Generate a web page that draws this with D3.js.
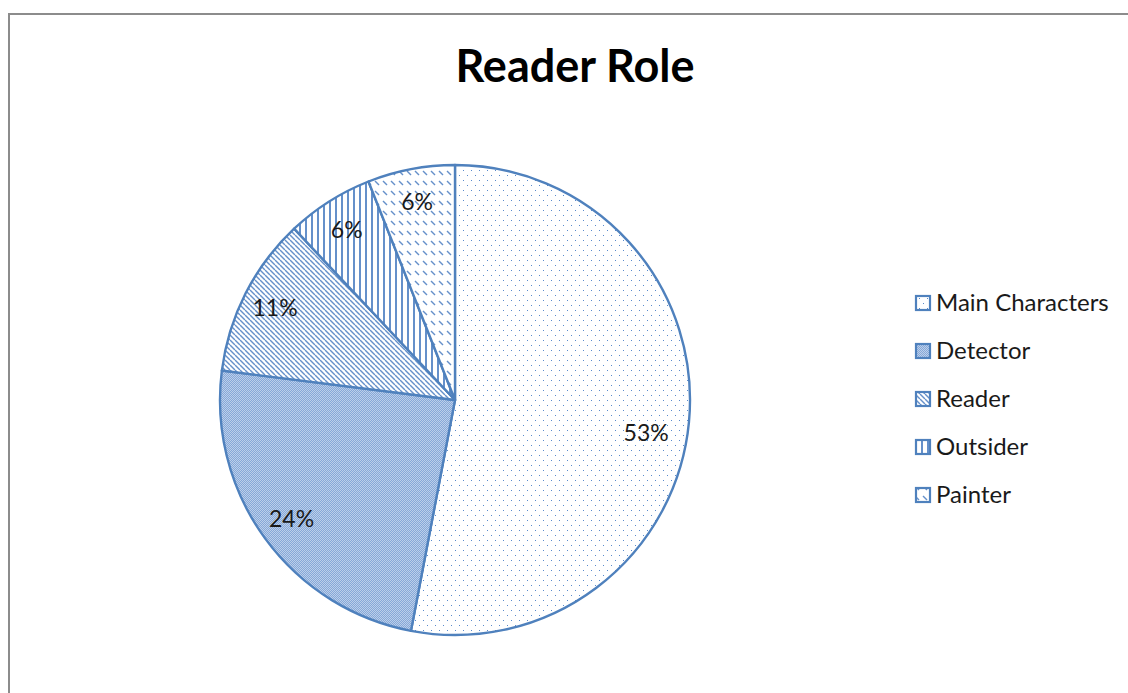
<!DOCTYPE html>
<html>
<head>
<meta charset="utf-8">
<script src="https://cdn.jsdelivr.net/npm/d3@7"></script>
<style>
  html, body { margin: 0; padding: 0; background: #fff; }
  svg { display: block; }
</style>
</head>
<body>
<svg id="chart" width="1128" height="693"></svg>
<script>
// Reader role shares
const categories = ["Main Characters", "Detector", "Reader", "Outsider", "Painter"];
const values = [53, 24, 11, 6, 6];
const patternIds = ["pDots", "pChecker", "pDiag", "pVert", "pDashDiag"];

const W = 1128, H = 693;
const blue = "#4F81BD";
const ink = "#6590ca";
const font = "Lato, 'Open Sans', sans-serif";

const svg = d3.select("#chart");
const defs = svg.append("defs");

// Fill patterns for each slice
function pattern(id, w, h, bg) {
  const p = defs.append("pattern")
    .attr("id", id).attr("patternUnits", "userSpaceOnUse")
    .attr("width", w).attr("height", h)
    .attr("shape-rendering", "crispEdges");
  p.append("rect").attr("width", w).attr("height", h).attr("fill", bg || "#fff");
  return p;
}
// sparse dots
{
  const p = pattern("pDots", 8, 10);
  p.append("rect").attr("x", 0).attr("y", 0).attr("width", 1.3).attr("height", 1.3).attr("fill", "#5a8acb");
  p.append("rect").attr("x", 4).attr("y", 5).attr("width", 1.3).attr("height", 1.3).attr("fill", "#5a8acb");
}
// fine checkerboard
{
  const p = pattern("pChecker", 4, 4, "#bccfea");
  [[0, 0], [2, 0], [1, 1], [3, 1], [0, 2], [2, 2], [1, 3], [3, 3]].forEach(([x, y]) => {
    p.append("rect").attr("x", x).attr("y", y).attr("width", 1).attr("height", 1).attr("fill", "#86a8d8");
  });
}
// downward diagonal lines
{
  const s = 5;
  const p = pattern("pDiag", s, s);
  p.attr("shape-rendering", "auto");
  [-s, 0, s].forEach(dx => {
    p.append("line").attr("x1", dx).attr("y1", 0).attr("x2", dx + s).attr("y2", s)
      .attr("stroke", ink).attr("stroke-width", 1.4);
  });
}
// vertical lines
{
  const p = pattern("pVert", 6, 6);
  p.append("rect").attr("x", 0).attr("y", 0).attr("width", 2).attr("height", 6).attr("fill", ink);
}
// dashed downward diagonals
{
  const p = pattern("pDashDiag", 8, 10);
  p.attr("shape-rendering", "auto");
  p.append("line").attr("x1", 0).attr("y1", 1).attr("x2", 4).attr("y2", 5)
    .attr("stroke", ink).attr("stroke-width", 1.5);
  p.append("line").attr("x1", 8).attr("y1", 1).attr("x2", 12).attr("y2", 5)
    .attr("stroke", ink).attr("stroke-width", 1.5);
}

// Chart frame
svg.append("rect")
  .attr("x", 9).attr("y", 14).attr("width", W + 20).attr("height", H + 20)
  .attr("fill", "#fff").attr("stroke", "#8c8c8c").attr("stroke-width", 2);

// Title
svg.append("text")
  .attr("x", 575).attr("y", 82)
  .attr("text-anchor", "middle")
  .attr("font-family", font).attr("font-weight", "bold").attr("font-size", 45)
  .attr("fill", "#000")
  .text("Reader Role");

// Pie
const cx = 455, cy = 400, R = 235;
const data = categories.map((c, i) => ({ name: c, value: values[i], pat: patternIds[i] }));
const pie = d3.pie().value(d => d.value).sort(null);
const arcs = pie(data);
const arc = d3.arc().innerRadius(0).outerRadius(R);
const labelArc = d3.arc().innerRadius(202).outerRadius(202);
const total = d3.sum(values);

const g = svg.append("g").attr("transform", `translate(${cx},${cy})`);
g.selectAll("path.slice").data(arcs).join("path")
  .attr("class", "slice")
  .attr("d", arc)
  .attr("fill", d => `url(#${d.data.pat})`)
  .attr("stroke", blue).attr("stroke-width", 2.4).attr("stroke-linejoin", "round");

g.selectAll("text.lbl").data(arcs).join("text")
  .attr("class", "lbl")
  .attr("transform", d => {
    const [x, y] = labelArc.centroid(d);
    // the large slice's label sits a little lower, below its midline
    return d.index === 0 ? `translate(${x - 10},${y + 14})` : `translate(${x},${y})`;
  })
  .attr("text-anchor", "middle").attr("dy", "0.35em")
  .attr("font-family", font).attr("font-size", 23).attr("fill", "#1a1a1a")
  .text(d => Math.round(d.data.value / total * 100) + "%");

// Legend
const legend = svg.append("g");
const rowY = d3.scalePoint().domain(categories).range([303, 495]);
const items = legend.selectAll("g").data(data).join("g")
  .attr("transform", d => `translate(915,${rowY(d.name)})`);
items.append("rect")
  .attr("x", 1).attr("y", -7).attr("width", 14).attr("height", 14)
  .attr("fill", d => `url(#${d.pat})`)
  .attr("stroke", blue).attr("stroke-width", 2.2);
items.append("text")
  .attr("x", 21).attr("dy", "0.35em")
  .attr("font-family", font).attr("font-size", 24).attr("fill", "#1a1a1a")
  .text(d => d.name);
</script>
</body>
</html>
